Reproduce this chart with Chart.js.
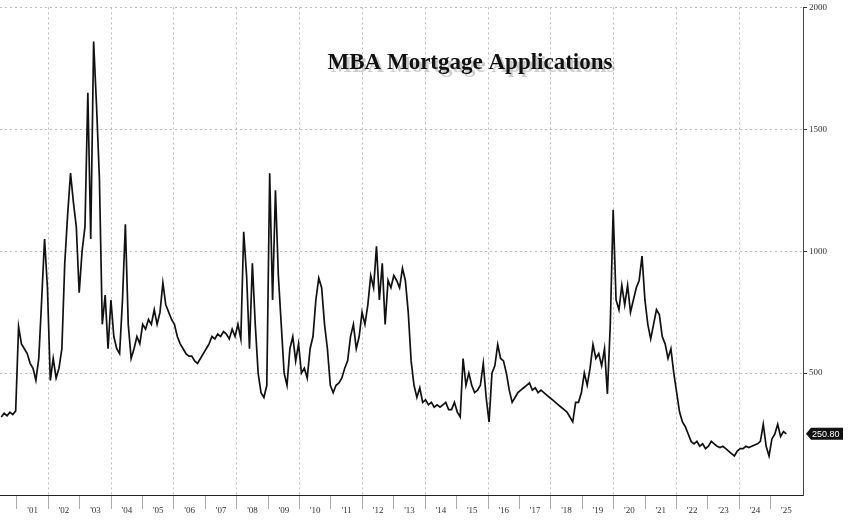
<!DOCTYPE html>
<html><head><meta charset="utf-8">
<script src="https://cdn.jsdelivr.net/npm/chart.js@4/dist/chart.umd.min.js"></script>
<style>html,body{margin:0;padding:0;background:#fff}#w{width:848px;height:520px}</style>
</head><body><div id="w"><canvas id="c"></canvas></div>
<script>
const startMonth = 2000.5; // first value month (Jul 2000), monthly steps
const v2000 = [320,335,325,340,330,345];
const v2001 = [690,620,600,580,540,520,470,560,800,1050,850,470];
const v2002 = [560,480,520,600,950,1150,1320,1200,1100,830,1000,1100];
const v2003 = [1650,1050,1860,1600,1300,700,820,600,800,650,600,580];
const v2004 = [800,1110,700,560,600,650,620,700,680,720,700,760];
const v2005 = [700,750,870,780,750,720,700,650,620,600,580,570];
const v2006 = [570,550,540,560,580,600,620,650,640,660,650,670];
const v2007 = [660,640,680,650,700,640,1080,900,600,950,700,500];
const v2008 = [420,400,450,1320,800,1250,900,700,500,450,600,650];
const v2009 = [550,620,500,520,480,600,650,800,890,850,700,600];
const v2010 = [450,420,450,460,480,520,550,650,700,600,650,750];
const v2011 = [700,780,900,850,1020,800,950,700,880,850,900,880];
const v2012 = [850,930,880,750,550,450,400,440,380,390,370,380];
const v2013 = [360,370,360,370,380,350,350,380,340,320,560,450];
const v2014 = [500,450,420,430,450,540,400,300,500,530,617,560];
const v2015 = [550,500,430,380,400,420,430,440,450,460,430,440];
const v2016 = [420,430,420,410,400,390,380,370,360,350,340,320];
const v2017 = [300,380,380,420,500,450,520,617,560,580,530,600];
const v2018 = [415,700,1170,800,760,860,780,860,750,800,850,880];
const v2019 = [980,800,700,640,700,760,740,650,620,560,600,500];
const v2020 = [420,340,300,280,250,220,210,220,200,210,190,200];
const v2021 = [220,210,200,195,200,190,180,170,160,180,190,190];
const v2022 = [200,195,200,205,210,220,290,200,160,230,250,290];
const v2023 = [240,260,250.8];
const yTicks = [500,1000,1500,2000];
const yearLabels = ["'01","'02","'03","'04","'05","'06","'07","'08","'09","'10","'11","'12","'13","'14","'15","'16","'17","'18","'19","'20","'21","'22","'23","'24","'25"];
const lastLabel = "250.80";
const title = "MBA Mortgage Applications";

const values = [].concat(v2000,v2001,v2002,v2003,v2004,v2005,v2006,v2007,v2008,v2009,v2010,v2011,v2012,v2013,v2014,v2015,v2016,v2017,v2018,v2019,v2020,v2021,v2022,v2023);
const pts = values.map((y,i)=>({x:startMonth + i*(25/(values.length-1)), y}));

const deco = {
  id:'deco',
  afterDraw(ch){
    const c=ch.ctx, ys=ch.scales.y, ca=ch.chartArea;
    c.save();
    c.font='bold 23px "Liberation Serif", "DejaVu Serif", serif';
    c.textAlign='center'; c.textBaseline='middle';
    c.fillStyle='rgba(0,0,0,0.2)'; c.fillText(title,473,66);
    c.fillStyle='#111'; c.fillText(title,470,63);
    const y=ys.getPixelForValue(values[values.length-1]);
    c.fillStyle='#111';
    c.beginPath(); c.moveTo(ca.right+3,y); c.lineTo(ca.right+8,y-6); c.lineTo(ca.right+40,y-6);
    c.lineTo(ca.right+40,y+6); c.lineTo(ca.right+8,y+6); c.closePath(); c.fill();
    c.fillStyle='#fff'; c.font='9px "Liberation Sans", sans-serif'; c.textAlign='left';
    c.fillText(lastLabel, ca.right+9, y+0.5);
    c.restore();
  }
};

new Chart(document.getElementById('c'),{
  type:'line',
  data:{datasets:[{data:pts,borderColor:'#111',borderWidth:1.7,pointRadius:0,tension:0}]},
  options:{
    responsive:true,maintainAspectRatio:false,animation:false,
    layout:{padding:{top:3,left:0,right:0,bottom:0}},
    plugins:{legend:{display:false},tooltip:{enabled:false}},
    scales:{
      x:{type:'linear',min:2000.46,max:2026.03,
        afterBuildTicks(s){s.ticks=yearLabels.map((_,i)=>({value:2001+i}));},
        afterFit(s){s.height=25;},
        grid:{drawOnChartArea:true,tickLength:14,
          color:(ctx)=> (ctx.tick && ctx.tick.value%2===0)?'#bbb':'rgba(0,0,0,0)',
          tickColor:'#aaa', lineWidth:1},
        border:{display:true,color:'#222',dash:[2,3]},
        ticks:{autoSkip:false,maxRotation:0,labelOffset:15.7,padding:-4,
          callback:(v,i)=>yearLabels[i],
          font:{size:9,family:'"Liberation Serif", serif'},color:'#333'}
      },
      y:{position:'right',min:0,max:2000,
        afterBuildTicks(s){s.ticks=yTicks.map(v=>({value:v}));},
        afterFit(s){s.width=45;},
        border:{display:true,color:'#444',dash:[2,3]},
        grid:{color:'#bbb',tickLength:4,tickColor:'#333'},
        ticks:{callback:(v)=>String(v),font:{size:9,family:'"Liberation Serif", serif'},color:'#333',padding:2}
      }
    }
  },
  plugins:[deco]
});
</script></body></html>
